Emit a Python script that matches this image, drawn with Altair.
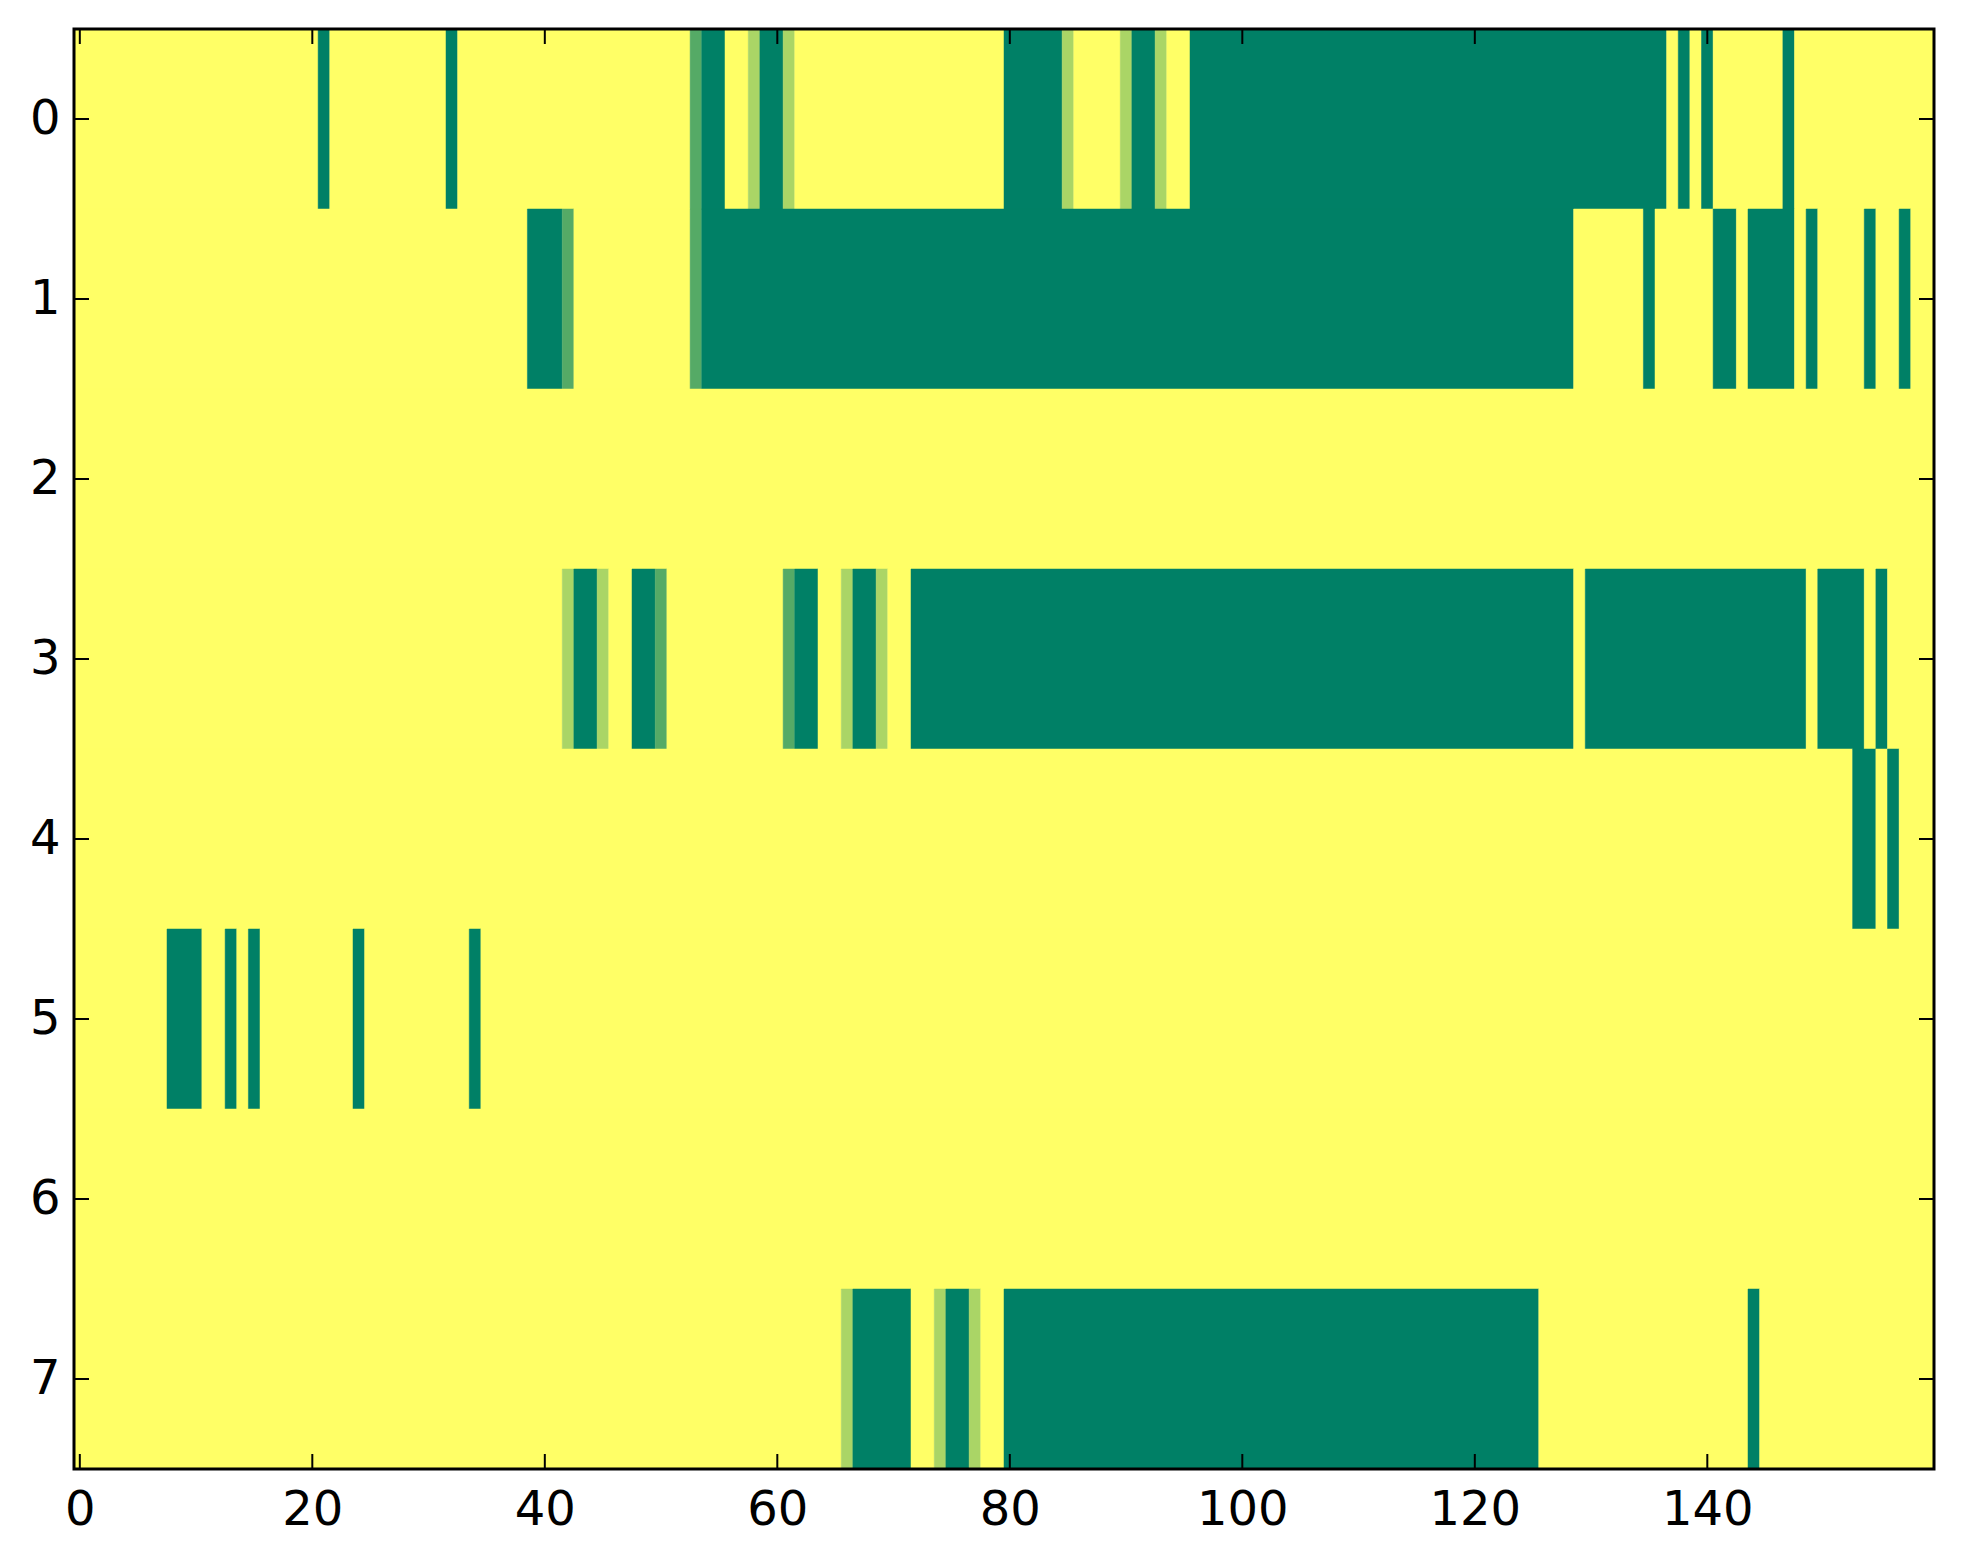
import altair as alt
import pandas as pd

# level codes: 0 = dark green, 1 = medium green, 2 = light green, 3 = yellow
LEVELS = [0, 1, 2, 3]
COLORS = ["#008066", "#55aa66", "#aad566", "#ffff66"]

N_COLS = 160
ROW_LABELS = [0, 1, 2, 3, 4, 5, 6, 7]
X_TICKS = [0, 20, 40, 60, 80, 100, 120, 140]

# run-length rows: (level, run length)
row0 = [(3, 21), (0, 1), (3, 10), (0, 1), (3, 20), (1, 1), (0, 2), (3, 2), (2, 1), (0, 2),
        (2, 1), (3, 18), (0, 5), (2, 1), (3, 4), (2, 1), (0, 2), (2, 1), (3, 2), (0, 41),
        (3, 1), (0, 1), (3, 1), (0, 1), (3, 6), (0, 1), (3, 12)]
row1 = [(3, 39), (0, 3), (1, 1), (3, 10), (1, 1), (0, 75), (3, 6), (0, 1), (3, 5), (0, 2),
        (3, 1), (0, 4), (3, 1), (0, 1), (3, 4), (0, 1), (3, 2), (0, 1), (3, 2)]
row2 = [(3, 160)]
row3 = [(3, 42), (2, 1), (0, 2), (2, 1), (3, 2), (0, 2), (1, 1), (3, 10), (1, 1), (0, 2),
        (3, 2), (2, 1), (0, 2), (2, 1), (3, 2), (0, 57), (3, 1), (0, 19), (3, 1), (0, 4),
        (3, 1), (0, 1), (3, 4)]
row4 = [(3, 153), (0, 2), (3, 1), (0, 1), (3, 3)]
row5 = [(3, 8), (0, 3), (3, 2), (0, 1), (3, 1), (0, 1), (3, 8), (0, 1), (3, 9), (0, 1), (3, 125)]
row6 = [(3, 160)]
row7 = [(3, 66), (2, 1), (0, 5), (3, 2), (2, 1), (0, 2), (2, 1), (3, 2), (0, 46), (3, 18),
        (0, 1), (3, 15)]

ROWS = [row0, row1, row2, row3, row4, row5, row6, row7]

records = []
for r, segs in zip(ROW_LABELS, ROWS):
    start = 0
    for level, length in segs:
        records.append({"row": r, "x0": start - 0.5, "x1": start + length - 0.5,
                        "y0": r - 0.5, "y1": r + 0.5, "level": level})
        start += length
df = pd.DataFrame(records)

W, H = 1860, 1440
FONT = "DejaVu Sans"
FS = 48
TICK = 15

xscale = alt.Scale(domain=[-0.5, N_COLS - 0.5], nice=False, zero=False)
yscale = alt.Scale(domain=[len(ROW_LABELS) - 0.5, -0.5], nice=False, zero=False)

xaxis = alt.Axis(values=X_TICKS, ticks=False, domain=False, grid=False, title=None,
                 labelFont=FONT, labelFontSize=FS, labelColor="black",
                 labelPadding=17, labelFlush=False)
yaxis = alt.Axis(values=ROW_LABELS, ticks=False, domain=False, grid=False, title=None,
                 labelFont=FONT, labelFontSize=FS, labelColor="black",
                 labelPadding=14, labelFlush=False)

cells = alt.Chart(df).mark_rect(strokeWidth=0.5).encode(
    x=alt.X("x0:Q", scale=xscale, axis=xaxis),
    x2="x1:Q",
    y=alt.Y("y0:Q", scale=yscale, axis=yaxis),
    y2="y1:Q",
    color=alt.Color("level:O", scale=alt.Scale(domain=LEVELS, range=COLORS), legend=None),
    stroke=alt.Stroke("level:O", scale=alt.Scale(domain=LEVELS, range=COLORS), legend=None),
)

xt = pd.DataFrame({"x0": X_TICKS})
yt = pd.DataFrame({"y0": ROW_LABELS})

tick_bottom = alt.Chart(xt).mark_rule(color="black", strokeWidth=2).encode(
    x=alt.X("x0:Q", scale=xscale, axis=xaxis), y=alt.value(H - TICK), y2=alt.value(H))
tick_top = alt.Chart(xt).mark_rule(color="black", strokeWidth=2).encode(
    x=alt.X("x0:Q", scale=xscale, axis=xaxis), y=alt.value(0), y2=alt.value(TICK))
tick_left = alt.Chart(yt).mark_rule(color="black", strokeWidth=2).encode(
    y=alt.Y("y0:Q", scale=yscale, axis=yaxis), x=alt.value(0), x2=alt.value(TICK))
tick_right = alt.Chart(yt).mark_rule(color="black", strokeWidth=2).encode(
    y=alt.Y("y0:Q", scale=yscale, axis=yaxis), x=alt.value(W - TICK), x2=alt.value(W))

frame = alt.Chart(pd.DataFrame({"a": [0]})).mark_rect(
    fillOpacity=0, stroke="black", strokeWidth=3).encode(
    x=alt.value(0), x2=alt.value(W), y=alt.value(0), y2=alt.value(H))

chart = alt.layer(cells, tick_bottom, tick_top, tick_left, tick_right, frame).properties(
    width=W, height=H,
    autosize=alt.AutoSizeParams(type="none"),
    padding={"left": 66, "top": 21, "right": 20, "bottom": 70},
).configure_view(stroke=None, fill="#ffff66").configure(background="white")

chart.save("out.html", embed_options={"renderer": "svg", "actions": False})
